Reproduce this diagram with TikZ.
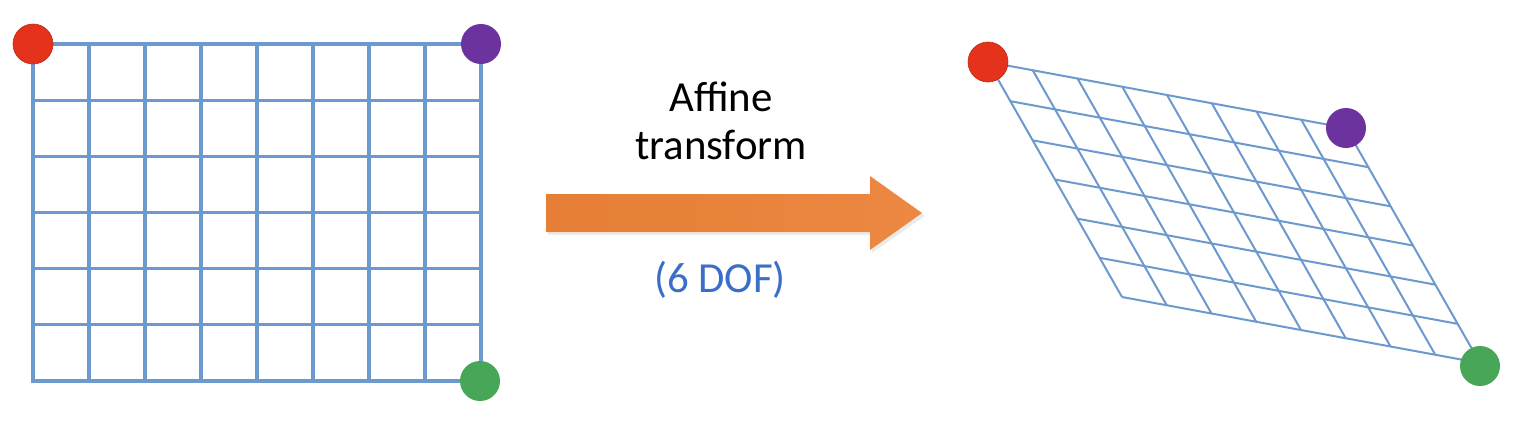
\documentclass[tikz,border=0pt]{standalone}
\usepackage{fontspec}
\setmainfont{Carlito}
\definecolor{gridblue}{RGB}{108,153,206}
\definecolor{dotred}{RGB}{228,50,28}
\definecolor{dotpurple}{RGB}{108,50,158}
\definecolor{dotgreen}{RGB}{72,166,88}
\definecolor{arrorangeL}{RGB}{230,126,54}
\definecolor{arrorangeR}{RGB}{236,136,66}
\definecolor{dofblue}{RGB}{58,110,200}
\tikzset{
  dot/.style={circle, minimum size=40bp, inner sep=0pt},
  gridline/.style={draw=gridblue, line width=3.2bp, line cap=rect},
  skewline/.style={draw=gridblue, line width=2bp},
  caption/.style={font=\fontsize{43}{48}\selectfont, align=center, inner sep=0pt}
}
\begin{document}
\begin{tikzpicture}[x=1bp, y=-1bp]
\useasboundingbox (0,0) rectangle (1525,431);
\fill[white] (0,0) rectangle (1525,431);
% left grid
\foreach \i in {0,...,8}{
  \draw[gridline] ({33+56*\i},44) -- ({33+56*\i},381);
}
\foreach \j in {0,...,6}{
  \draw[gridline] (33,{44+337/6*\j}) -- (481,{44+337/6*\j});
}
\node[dot, fill=dotred, draw=dotred!85!black, line width=0.6bp] (lr) at (33,44) {};
\node[dot, fill=dotpurple] (lp) at (481,44) {};
\node[dot, fill=dotgreen] (lg) at (480,381) {};
% right (affine) grid
\foreach \i in {0,...,8}{
  \pgfmathsetmacro{\sx}{988+358*\i/8}
  \pgfmathsetmacro{\sy}{62+66*\i/8}
  \draw[skewline] (\sx,\sy) -- ({\sx+134},{\sy+235});
}
\foreach \j in {0,...,6}{
  \pgfmathsetmacro{\sx}{988+134*\j/6}
  \pgfmathsetmacro{\sy}{62+235*\j/6}
  \draw[skewline] (\sx,\sy) -- ({\sx+358},{\sy+66});
}
\node[dot, fill=dotred, draw=dotred!85!black, line width=0.6bp] (rr) at (988,62) {};
\node[dot, fill=dotpurple] (rp) at (1346,128) {};
\node[dot, fill=dotgreen] (rg) at (1480,366) {};
% arrow
\fill[black, opacity=0.08] (548,197) -- (872,197) -- (872,179) -- (925,216) -- (872,253) -- (872,235) -- (548,235) -- cycle;
\shade[left color=arrorangeL, right color=arrorangeR] (546,194) -- (870,194) -- (870,176) -- (922,213) -- (870,250) -- (870,232) -- (546,232) -- cycle;
\node[caption, anchor=base] (t1) at (721,111) {Affine};
\node[caption, anchor=base] (t2) at (721,159) {transform};
\node[caption, anchor=base, text=dofblue] (t3) at (720,292) {(6 DOF)};
\end{tikzpicture}
\end{document}
